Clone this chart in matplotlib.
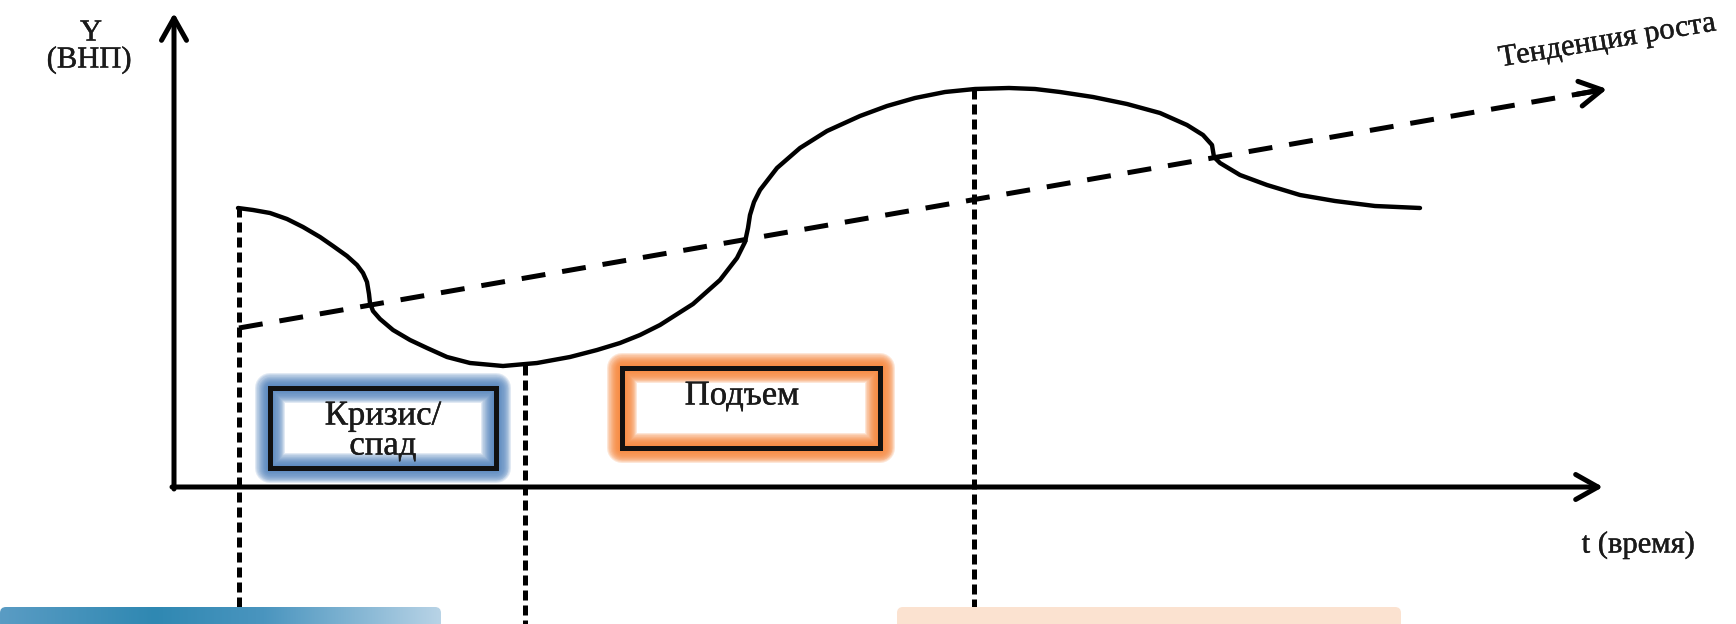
"""Business cycle diagram: GDP (Y) over time with growth trend and phase boxes."""

import matplotlib
matplotlib.use("Agg")
import matplotlib.pyplot as plt
import matplotlib.patheffects as pe
import numpy as np
from matplotlib.patches import Rectangle, FancyBboxPatch, FancyArrowPatch
from matplotlib.colors import LinearSegmentedColormap

plt.rcParams["font.family"] = ["Liberation Serif", "DejaVu Serif"]
plt.rcParams["lines.scale_dashes"] = False

W, H = 1736, 624
PX = 0.72                      # points per pixel at dpi=100

# axes of the diagram (drawing units = picture pixels, y grows downward)
ORIGIN_T, ORIGIN_Y = 174, 487
T_AXIS_END = 1603
Y_AXIS_END = 13

# cyclical GDP curve
CYCLE_T = [238, 253, 270, 287, 303, 320, 333, 347, 357, 363, 367, 369, 370, 373, 380,
           393, 410, 427, 447, 470, 503, 537, 570, 597, 620, 640, 660, 693, 720, 737,
           745, 748, 750, 754, 760, 777, 800, 827, 860, 887, 915, 945, 975, 1009, 1035,
           1060, 1093, 1127, 1160, 1187, 1203, 1212, 1214, 1220, 1240, 1267, 1300, 1335,
           1375, 1420]
CYCLE_Y = [208, 210, 213, 219, 227, 237, 246, 256, 265, 273, 282, 294, 303, 311, 319,
           330, 340, 348, 357, 363, 366, 363, 357, 350, 343, 335, 325, 304, 280, 258,
           242, 228, 215, 202, 190, 168, 148, 131, 116, 106, 98, 92, 89, 88, 89,
           92, 97, 104, 113, 125, 135, 145, 157, 163, 175, 185, 195, 201, 206, 208]

# growth trend (dashed, with arrow)
TREND_T = [239, 1607]
TREND_Y = [328, 89]

# vertical phase markers
MARK_T = [239, 525, 974]
MARK_TOP = [207, 365, 89]
MARK_BOTTOM = [607, 624, 607]

# phase boxes
BOX_T0 = [270, 622]
BOX_T1 = [496, 880]
BOX_Y0 = [388, 368]
BOX_Y1 = [468, 448]
BOX_GLOW = ["#4f81bd", "#f7863a"]
BOX_ALPHA = [0.17, 0.2]
BOX_LINES = [["Кризис/", "спад"], ["Подъем"]]
BOX_TEXT_T = [[383, 383], [742]]
BOX_TEXT_Y = [[416, 446], [396]]

# bottom strips (cut-off slide elements)
STRIP_T0 = [0, 897]
STRIP_T1 = [441, 1401]
STRIP_TOP = 607

ink = [pe.withStroke(linewidth=0.3, foreground="#1a1a1a")]

fig = plt.figure(figsize=(W / 100, H / 100), dpi=100)
ax = fig.add_axes([0, 0, 1, 1])
ax.axis("off")

# axes with arrows
for xy_from, xy_to in [((ORIGIN_T - 2, ORIGIN_Y), (T_AXIS_END, ORIGIN_Y)),
                       ((ORIGIN_T, ORIGIN_Y + 2), (ORIGIN_T, Y_AXIS_END))]:
    ax.add_patch(FancyArrowPatch(xy_from, xy_to, arrowstyle="->,head_length=0.8,head_width=0.45",
                                 mutation_scale=20, lw=5 * PX, color="black",
                                 shrinkA=0, shrinkB=0, zorder=4))

# vertical dashed markers
for t, y0, y1 in zip(MARK_T, MARK_TOP, MARK_BOTTOM):
    ax.plot([t, t], [y0, y1], color="black", lw=5 * PX, dashes=(10 * PX, 5 * PX), zorder=3)

# trend line + arrow head
ax.plot([TREND_T[0], TREND_T[1] - 12], [TREND_Y[0], TREND_Y[1] + 2.1], color="black",
        lw=5 * PX, dashes=(24 * PX, 17 * PX), zorder=3)
ax.add_patch(FancyArrowPatch((TREND_T[1] - 30, TREND_Y[1] + 5.2), (TREND_T[1], TREND_Y[1]),
                             arrowstyle="->,head_length=0.8,head_width=0.45", mutation_scale=20,
                             lw=5 * PX, color="black", shrinkA=0, shrinkB=0, zorder=3))

# the cycle curve
ax.plot(CYCLE_T, CYCLE_Y, color="black", lw=4.4 * PX, solid_joinstyle="round",
        solid_capstyle="round", zorder=4)

# glowing phase boxes
for t0, t1, y0, y1, glow, a, lines, xs, ys in zip(BOX_T0, BOX_T1, BOX_Y0, BOX_Y1, BOX_GLOW,
                                                  BOX_ALPHA, BOX_LINES, BOX_TEXT_T, BOX_TEXT_Y):
    for k in range(12):
        w = 30 - 2.2 * k
        ax.add_patch(Rectangle((t0, y0), t1 - t0, y1 - y0, fill=False, ec=glow, alpha=a,
                               lw=w * PX, joinstyle="round", zorder=2))
    ax.add_patch(Rectangle((t0, y0), t1 - t0, y1 - y0, fill=False, ec="#111111",
                           lw=5 * PX, joinstyle="miter", zorder=5))
    for s, x, y in zip(lines, xs, ys):
        ax.text(x, y, s, ha="center", va="center", fontsize=25,
                color="#1a1a1a", zorder=6, path_effects=ink)

# axis labels
ax.text(91, 33, "Y", ha="center", va="center", fontsize=22, color="#1a1a1a", path_effects=ink)
ax.text(89, 60, "(ВНП)", ha="center", va="center", fontsize=22, color="#1a1a1a",
        path_effects=ink)
ax.text(1638, 545, "t (время)", ha="center", va="center", fontsize=22, color="#1a1a1a",
        path_effects=ink)
ax.text(1607, 41, "Тенденция роста", ha="center", va="center", fontsize=22,
        rotation=9.5, rotation_mode="anchor", color="#1a1a1a", path_effects=ink)

# bottom strips
blue_clip = FancyBboxPatch((STRIP_T0[0], STRIP_TOP), STRIP_T1[0] - STRIP_T0[0], 40,
                           boxstyle="round,pad=0,rounding_size=6", fc="none", ec="none")
ax.add_patch(blue_clip)
cmap = LinearSegmentedColormap.from_list(
    "strip", [(0, "#5a9cc4"), (0.35, "#2f88b2"), (0.6, "#4a95bf"), (1, "#b8d3e6")])
im = ax.imshow(np.linspace(0, 1, 256)[None, :], cmap=cmap, aspect="auto",
               extent=(STRIP_T0[0], STRIP_T1[0], H, STRIP_TOP), zorder=6)
im.set_clip_path(blue_clip)
ax.add_patch(FancyBboxPatch((STRIP_T0[1], STRIP_TOP), STRIP_T1[1] - STRIP_T0[1], 40,
                            boxstyle="round,pad=0,rounding_size=6", fc="#fbe2d0",
                            ec="none", zorder=6))

ax.set_xlim(0, W)
ax.set_ylim(H, 0)

fig.savefig("out.png", dpi=100)
